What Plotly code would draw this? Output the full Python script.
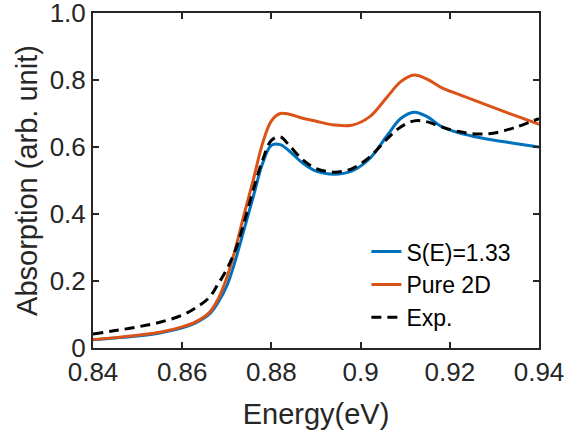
import plotly.graph_objects as go

energy = [0.84, 0.845, 0.85, 0.855, 0.86, 0.863, 0.866, 0.868, 0.870, 0.872, 0.874,
          0.876, 0.878, 0.880, 0.882, 0.884, 0.887, 0.890, 0.894, 0.898, 0.902,
          0.906, 0.909, 0.912, 0.915, 0.918, 0.922, 0.926, 0.930, 0.935, 0.94]

s_133 = [0.025, 0.030, 0.036, 0.045, 0.060, 0.075, 0.100, 0.135, 0.185, 0.265, 0.360,
         0.455, 0.550, 0.605, 0.607, 0.588, 0.552, 0.528, 0.519, 0.528, 0.565,
         0.635, 0.685, 0.704, 0.690, 0.662, 0.642, 0.630, 0.620, 0.610, 0.600]

pure_2d = [0.025, 0.031, 0.038, 0.047, 0.063, 0.078, 0.105, 0.145, 0.210, 0.300, 0.405,
           0.505, 0.610, 0.678, 0.700, 0.698, 0.686, 0.677, 0.666, 0.665, 0.690,
           0.750, 0.795, 0.815, 0.802, 0.778, 0.757, 0.737, 0.717, 0.692, 0.668]

exp_data = [0.042, 0.052, 0.063, 0.077, 0.098, 0.120, 0.150, 0.190, 0.235, 0.295, 0.380,
            0.475, 0.560, 0.620, 0.630, 0.605, 0.562, 0.536, 0.525, 0.535, 0.570,
            0.625, 0.660, 0.678, 0.675, 0.661, 0.646, 0.639, 0.642, 0.660, 0.685]

x_ticks = [0.84, 0.86, 0.88, 0.90, 0.92, 0.94]
x_ticktext = ["0.84", "0.86", "0.88", "0.9", "0.92", "0.94"]
y_ticks = [0, 0.2, 0.4, 0.6, 0.8, 1.0]
y_ticktext = ["0", "0.2", "0.4", "0.6", "0.8", "1.0"]

FONT = "Liberation Sans, Arial, sans-serif"
AX = "#262626"

fig = go.Figure()
fig.add_trace(go.Scatter(x=energy, y=s_133, name="S(E)=1.33", mode="lines",
                         line=dict(color="#0072BD", width=3, shape="spline", smoothing=1.0)))
fig.add_trace(go.Scatter(x=energy, y=pure_2d, name="Pure 2D", mode="lines",
                         line=dict(color="#D95319", width=3, shape="spline", smoothing=1.0)))
fig.add_trace(go.Scatter(x=energy, y=exp_data, name="Exp.", mode="lines",
                         line=dict(color="black", width=3, dash="10px,6px", shape="spline", smoothing=1.0)))

axis_common = dict(showgrid=False, zeroline=False, showline=True, linecolor=AX, linewidth=2,
                   mirror="ticks", ticks="inside", ticklen=6, tickwidth=2, tickcolor=AX,
                   automargin=False, ticklabeloverflow="allow",
                   tickfont=dict(family=FONT, size=26, color=AX))

fig.update_xaxes(range=[0.84, 0.94], tickvals=x_ticks, ticktext=x_ticktext,
                 title=dict(text="Energy(eV)", font=dict(family=FONT, size=29, color=AX), standoff=17),
                 **axis_common)
fig.update_yaxes(range=[0, 1], tickvals=y_ticks, ticktext=y_ticktext,
                 title=dict(text="Absorption (arb. unit)", font=dict(family=FONT, size=29, color=AX), standoff=3),
                 **axis_common)

fig.update_layout(
    width=567, height=435,
    margin=dict(l=93, r=28, t=13, b=87, autoexpand=False),
    paper_bgcolor="white", plot_bgcolor="white",
    legend=dict(x=0.613, y=0.352, xanchor="left", yanchor="top",
                bgcolor="rgba(0,0,0,0)", borderwidth=0,
                font=dict(family=FONT, size=23, color="black"),
                tracegroupgap=0, itemwidth=30),
    showlegend=True,
)

fig.write_html("out.html", config={"displayModeBar": False},
               post_script="document.body.style.margin='0';document.body.style.overflow='hidden';")
